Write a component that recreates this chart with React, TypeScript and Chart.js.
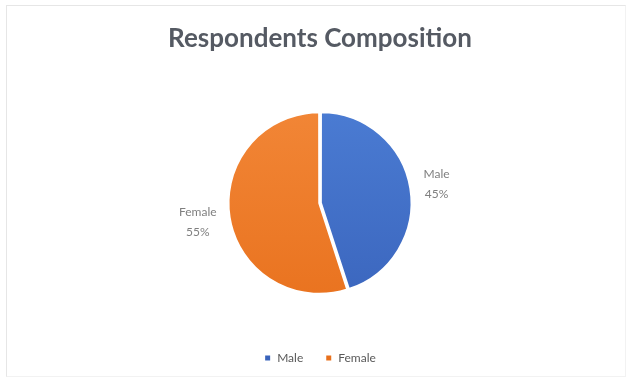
import React, { useEffect, useRef } from "react";
import { Chart, registerables } from "chart.js";

Chart.register(...registerables);

const categories = ["Male", "Female"];
const shares = [45, 55];
const sliceColors = [
  ["#4d7fd6", "#3963bb"],
  ["#f3893a", "#e8701c"],
];
const titleText = "Respondents Composition";

const labelPlugin = {
  id: "sliceLabels",
  afterDatasetsDraw(chart: any) {
    const ctx = chart.ctx;
    const meta = chart.getDatasetMeta(0);
    const total = shares.reduce((a, b) => a + b, 0);
    ctx.save();
    ctx.font = "12px Lato";
    ctx.fillStyle = "#7f7f7f";
    ctx.textBaseline = "middle";
    meta.data.forEach((arc: any, i: number) => {
      const p = arc.getProps(["x", "y", "startAngle", "endAngle", "outerRadius"], true);
      const mid = (p.startAngle + p.endAngle) / 2;
      const lines = [categories[i], Math.round((shares[i] / total) * 100) + "%"];
      const w = Math.max(...lines.map((l) => ctx.measureText(l).width));
      const lh = 20;
      const h = lh * lines.length;
      const cos = Math.cos(mid);
      const sin = Math.sin(mid);
      const d = p.outerRadius + 12 + (w / 2) * Math.abs(cos) + (h / 2) * Math.abs(sin);
      const cx = p.x + d * cos;
      const cy = p.y + d * sin;
      ctx.textAlign = "center";
      lines.forEach((l, k) => {
        ctx.fillText(l, cx, cy - h / 2 + lh / 2 + k * lh);
      });
    });
    ctx.restore();
  },
};

export default function App() {
  const ref = useRef<HTMLCanvasElement | null>(null);
  useEffect(() => {
    document.body.style.margin = "0";
    if (!ref.current) return;
    const chart = new Chart(ref.current, {
      type: "pie",
      data: {
        labels: categories,
        datasets: [
          {
            data: shares,
            backgroundColor: (c: any) => {
              const area = c.chart.chartArea;
              const pair = sliceColors[c.dataIndex % sliceColors.length];
              if (!area) return pair[0];
              const g = c.chart.ctx.createLinearGradient(0, area.top, 0, area.bottom);
              g.addColorStop(0, pair[0]);
              g.addColorStop(1, pair[1]);
              return g;
            },
            borderColor: "#ffffff",
            borderWidth: 2,
            offset: [3.5, 3],
            radius: 90,
          } as any,
        ],
      },
      options: {
        animation: false,
        responsive: false,
        layout: { padding: { left: 8, right: 0, top: 0, bottom: 8 } },
        plugins: {
          title: {
            display: true,
            text: titleText,
            color: "#555a63",
            font: { family: "Lato", size: 26, weight: "bold" },
            padding: { top: 23.4, bottom: 21.4 },
          },
          legend: {
            display: true,
            position: "bottom",
            labels: {
              boxWidth: 7,
              boxHeight: 7,
              padding: 22,
              color: "#595959",
              font: { family: "Lato", size: 12 },
            },
          },
          tooltip: { enabled: false },
        },
      },
      plugins: [labelPlugin],
    });
    return () => chart.destroy();
  }, []);
  return (
    <div style={{ position: "relative", width: 632, height: 382, background: "#fff" }}>
      <div
        style={{
          position: "absolute",
          left: 6,
          top: 5,
          width: 620,
          height: 372,
          borderLeft: "1px solid #e6e6e6",
          borderTop: "1px solid #e6e6e6",
          borderRight: "1px solid #f2f2f2",
          borderBottom: "1px solid #f2f2f2",
          boxSizing: "border-box",
        }}
      />
      <canvas ref={ref} width={632} height={382} style={{ position: "absolute", left: 0, top: 0 }} />
    </div>
  );
}
